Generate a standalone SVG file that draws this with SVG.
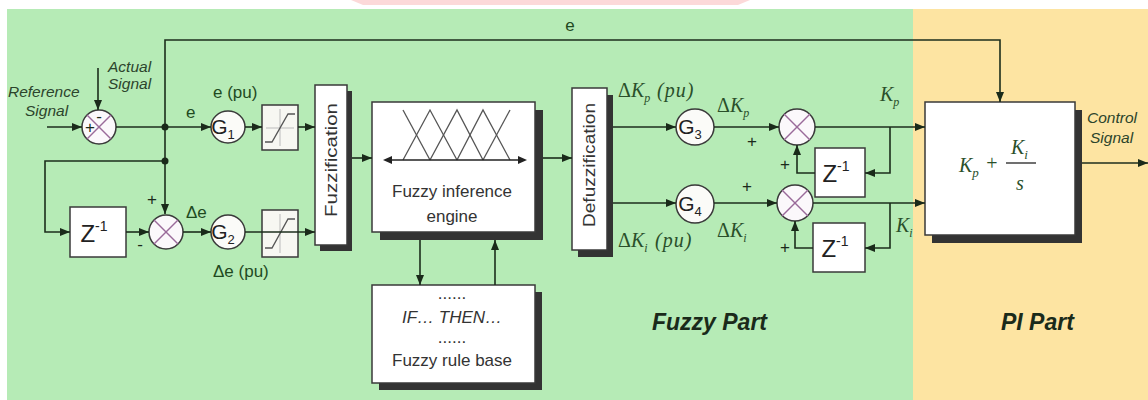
<svg xmlns="http://www.w3.org/2000/svg" width="1148" height="400" viewBox="0 0 1148 400">
<style>
.bg{stroke:none}
.box{fill:#ffffff;stroke:#3a3a3a;stroke-width:1.5}
.shadow{fill:#333333;stroke:none}
.sat{fill:#f7f7f2;stroke:#3a3a3a;stroke-width:1.5}
.gc{fill:#fbfbf8;stroke:#3a3a3a;stroke-width:1.5}
.sum{fill:#fbf8fb;stroke:#3a3a3a;stroke-width:1.5}
.x{stroke:#9a6a9a;stroke-width:1.4}
.w{fill:none;stroke:#1c2e1c;stroke-width:1.6}
.mf{fill:none;stroke:#555;stroke-width:1.3}
.lbl{font-family:"Liberation Sans",Arial,sans-serif;fill:#1f4a1f;font-size:17px}
.it{font-family:"Liberation Sans",Arial,sans-serif;font-style:italic;fill:#2c442c;font-size:15.5px}
.math{font-family:"Liberation Serif","Times New Roman",serif;fill:#2a4f2a;font-size:20px}
.g{font-family:"Liberation Sans",Arial,sans-serif;fill:#222;font-size:21px}
.z{font-family:"Liberation Sans",Arial,sans-serif;fill:#222;font-size:24px}
.in{font-family:"Liberation Sans",Arial,sans-serif;fill:#333;font-size:17px}
.part{font-family:"Liberation Sans",Arial,sans-serif;font-weight:bold;font-style:italic;fill:#1a2a1a;font-size:23px}
.pm{font-family:"Liberation Sans",Arial,sans-serif;fill:#1a2a1a;font-size:17px}
</style>
<defs>
<marker id="ah" viewBox="0 0 10 8" refX="10" refY="4" markerWidth="11" markerHeight="8" orient="auto" markerUnits="userSpaceOnUse">
<path d="M0,0 L10,4 L0,8 z" fill="#1a2a1a"/>
</marker>
</defs>

<!-- background -->
<rect x="0" y="0" width="1148" height="400" fill="#ffffff"/>
<path d="M351,0 H750 L738,5 H363 z" fill="#fcd9d9"/>
<rect class="bg" x="7" y="9" width="906" height="391" fill="#b6ebb6"/>
<rect class="bg" x="913" y="9" width="235" height="391" fill="#fde4a2"/>

<!-- summer 1 -->
<g id="sum1">
<circle class="sum" cx="99" cy="127" r="17" fill="#f4e9f2"/>
<line class="x" x1="87" y1="115" x2="111" y2="139"/>
<line class="x" x1="111" y1="115" x2="87" y2="139"/>
<text class="pm" x="99" y="122" text-anchor="middle" font-size="14">-</text>
<text class="pm" x="90" y="133" text-anchor="middle" font-size="14">+</text>
</g>

<!-- G1 -->
<g id="g1">
<ellipse class="gc" cx="228" cy="127" rx="17" ry="16"/>
<text class="g" x="223" y="134" text-anchor="middle">G<tspan font-size="13" dy="5">1</tspan></text>
</g>
<g id="sat1">
<rect class="sat" x="262" y="105" width="36" height="45"/>
<line x1="266" y1="128" x2="294" y2="128" stroke="#bbb" stroke-width="1"/>
<line x1="280" y1="109" x2="280" y2="146" stroke="#bbb" stroke-width="1"/>
<polyline class="mf" stroke="#333" points="265,142 272,142 288,114 295,114"/>
</g>

<!-- Z^-1 left -->
<g id="z0">
<rect class="box" x="70" y="207" width="56" height="50"/>
<text class="z" x="94" y="242" text-anchor="middle">Z<tspan font-size="14" dy="-11">-1</tspan></text>
</g>

<!-- summer 2 -->
<g id="sum2">
<circle class="sum" cx="166" cy="232" r="17"/>
<line class="x" x1="154" y1="220" x2="178" y2="244"/>
<line class="x" x1="178" y1="220" x2="154" y2="244"/>
</g>

<!-- G2 -->
<g id="g2">
<ellipse class="gc" cx="228" cy="232" rx="17" ry="17"/>
<text class="g" x="223" y="239" text-anchor="middle">G<tspan font-size="13" dy="5">2</tspan></text>
</g>
<g id="sat2">
<rect class="sat" x="262" y="210" width="36" height="47"/>
<line x1="280" y1="214" x2="280" y2="253" stroke="#bbb" stroke-width="1"/>
<polyline class="mf" stroke="#333" points="265,248 272,248 288,219 295,219"/>
</g>

<!-- Fuzzification -->
<g id="fuzzification">
<rect class="shadow" x="320" y="91" width="32" height="160"/>
<rect class="box" x="315" y="85" width="32" height="160"/>
<text class="in" font-size="16" transform="translate(337,160) rotate(-90)" text-anchor="middle" textLength="114" lengthAdjust="spacingAndGlyphs">Fuzzification</text>
</g>

<!-- Fuzzy inference engine -->
<g id="engine">
<rect class="shadow" x="380" y="110" width="163" height="130"/>
<rect class="box" x="372" y="102" width="163" height="130"/>
<polyline class="mf" points="403,110 430,160"/>
<polyline class="mf" points="403,160 430,110 457,160"/>
<polyline class="mf" points="430,160 457,110 483,160"/>
<polyline class="mf" points="457,160 483,110 510,160"/>
<polyline class="mf" points="483,160 510,110"/>
<line x1="386" y1="160" x2="524" y2="160" stroke="#222" stroke-width="1.5"/>
<path d="M383,160 L392,156 L392,164 z M527,160 L518,156 L518,164 z" fill="#222"/>
<text class="in" x="452" y="197" text-anchor="middle">Fuzzy inference</text>
<text class="in" x="452" y="222" text-anchor="middle">engine</text>
</g>

<!-- Rule base -->
<g id="rulebase">
<rect class="shadow" x="379" y="292" width="163" height="98"/>
<rect class="box" x="372" y="285" width="163" height="98"/>
<text class="in" x="452" y="299" text-anchor="middle" font-size="9" fill="#777">......</text>
<text class="in" x="452" y="323" text-anchor="middle" font-style="italic">IF… THEN…</text>
<text class="in" x="452" y="343" text-anchor="middle" font-size="9" fill="#777">......</text>
<text class="in" x="452" y="366" text-anchor="middle">Fuzzy rule base</text>
</g>

<!-- Defuzzification -->
<g id="defuzzification">
<rect class="shadow" x="578" y="95" width="35" height="162"/>
<rect class="box" x="572" y="88" width="35" height="162"/>
<text class="in" font-size="16" transform="translate(595,165) rotate(-90)" text-anchor="middle" textLength="124" lengthAdjust="spacingAndGlyphs">Defuzzification</text>
</g>

<!-- G3, G4 -->
<g id="g3">
<ellipse class="gc" cx="695" cy="127" rx="19" ry="18"/>
<text class="g" x="690" y="134" text-anchor="middle">G<tspan font-size="13" dy="5">3</tspan></text>
</g>
<g id="g4">
<ellipse class="gc" cx="695" cy="204" rx="19" ry="19"/>
<text class="g" x="690" y="211" text-anchor="middle">G<tspan font-size="13" dy="5">4</tspan></text>
</g>

<!-- summers 3,4 -->
<g id="sum3">
<circle class="sum" cx="797" cy="127" r="18"/>
<line class="x" x1="784" y1="114" x2="810" y2="140"/>
<line class="x" x1="810" y1="114" x2="784" y2="140"/>
</g>
<g id="sum4">
<circle class="sum" cx="795" cy="203" r="18"/>
<line class="x" x1="782" y1="190" x2="808" y2="216"/>
<line class="x" x1="808" y1="190" x2="782" y2="216"/>
</g>

<!-- Z^-1 right -->
<g id="z1">
<rect class="box" x="815" y="148" width="50" height="49"/>
<text class="z" x="836" y="182" text-anchor="middle">Z<tspan font-size="14" dy="-11">-1</tspan></text>
</g>
<g id="z2">
<rect class="box" x="813" y="223" width="52" height="49"/>
<text class="z" x="835" y="257" text-anchor="middle">Z<tspan font-size="14" dy="-11">-1</tspan></text>
</g>

<!-- PI block -->
<g id="pi">
<rect class="shadow" x="932" y="110" width="150" height="133"/>
<rect class="box" x="925" y="102" width="150" height="133"/>
<text class="math" x="959" y="172" font-size="24" fill="#222"><tspan font-style="italic">K</tspan><tspan font-size="13" dy="5" font-style="italic">p</tspan></text>
<text class="math" x="992" y="170" font-size="22" fill="#222" text-anchor="middle">+</text>
<text class="math" x="1011" y="154" font-size="24" fill="#222" font-style="italic">K<tspan font-size="13" dy="5">i</tspan></text>
<line x1="1006" y1="163" x2="1036" y2="163" stroke="#222" stroke-width="1.3"/>
<text class="math" x="1020" y="190" font-size="22" fill="#222" font-style="italic" text-anchor="middle">s</text>
</g>

<!-- connectors -->
<g id="connectors" class="w">
<path d="M47,127 H82" marker-end="url(#ah)"/>
<path d="M98,68 V110" marker-end="url(#ah)"/>
<path d="M116,127 H211" marker-end="url(#ah)"/>
<path d="M165,127 V40 H1000 V102" marker-end="url(#ah)"/>
<path d="M165,127 V214" marker-end="url(#ah)"/>
<path d="M165,161 H45 V232 H70" marker-end="url(#ah)"/>
<path d="M126,232 H149" marker-end="url(#ah)"/>
<path d="M183,232 H211" marker-end="url(#ah)"/>
<path d="M245,127 H262" marker-end="url(#ah)"/>
<path d="M298,127 H315" marker-end="url(#ah)"/>
<path d="M245,232 H315" marker-end="url(#ah)"/>
<path d="M352,158 H372" marker-end="url(#ah)"/>
<path d="M543,158 H572" marker-end="url(#ah)"/>
<path d="M420,240 V285" marker-end="url(#ah)"/>
<path d="M495,285 V240" marker-end="url(#ah)"/>
<path d="M613,127 H676" marker-end="url(#ah)"/>
<path d="M714,127 H779" marker-end="url(#ah)"/>
<path d="M815,127 H925" marker-end="url(#ah)"/>
<path d="M890,127 V173 H865" marker-end="url(#ah)"/>
<path d="M815,173 H797 V145" marker-end="url(#ah)"/>
<path d="M613,203 H676" marker-end="url(#ah)"/>
<path d="M714,203 H777" marker-end="url(#ah)"/>
<path d="M813,203 H925" marker-end="url(#ah)"/>
<path d="M890,203 V248 H865" marker-end="url(#ah)"/>
<path d="M813,248 H795 V221" marker-end="url(#ah)"/>
<path d="M1082,163 H1148" marker-end="url(#ah)"/>
<circle cx="165" cy="127" r="3.5" fill="#1a2a1a" stroke="none"/>
<circle cx="165" cy="161" r="3.5" fill="#1a2a1a" stroke="none"/>
</g>

<!-- labels -->
<g id="labels">
<text class="lbl" x="570" y="31" text-anchor="middle">e</text>
<text class="it" x="8" y="97">Reference</text>
<text class="it" x="25" y="116">Signal</text>
<text class="it" x="108" y="72">Actual</text>
<text class="it" x="108" y="89">Signal</text>
<text class="lbl" x="186" y="118">e</text>
<text class="lbl" x="213" y="98">e (pu)</text>
<text class="pm" x="152" y="205" text-anchor="middle">+</text>
<text class="pm" x="140" y="250" text-anchor="middle">-</text>
<text class="lbl" x="186" y="218">Δe</text>
<text class="lbl" x="213" y="277">Δe (pu)</text>
<text class="math" x="618" y="97">Δ<tspan font-style="italic">K</tspan><tspan font-style="italic" font-size="12" dy="5">p</tspan><tspan x="657" dy="-5" font-style="italic" letter-spacing="1">(pu)</tspan></text>
<text class="math" x="717" y="112">Δ<tspan font-style="italic">K</tspan><tspan font-style="italic" font-size="12" dy="5">p</tspan></text>
<text class="pm" x="752" y="147" text-anchor="middle">+</text>
<text class="math" x="880" y="101" font-style="italic">K<tspan font-size="12" dy="5">p</tspan></text>
<text class="pm" x="785" y="170" text-anchor="middle">+</text>
<text class="pm" x="747" y="192" text-anchor="middle">+</text>
<text class="math" x="618" y="247">Δ<tspan font-style="italic">K</tspan><tspan font-style="italic" font-size="12" dy="5">i</tspan><tspan x="655" dy="-5" font-style="italic" letter-spacing="1">(pu)</tspan></text>
<text class="math" x="717" y="237">Δ<tspan font-style="italic">K</tspan><tspan font-style="italic" font-size="12" dy="5">i</tspan></text>
<text class="math" x="896" y="232" font-style="italic">K<tspan font-size="12" dy="5">i</tspan></text>
<text class="pm" x="785" y="253" text-anchor="middle">+</text>
<text class="it" x="1087" y="123" font-size="16">Control</text>
<text class="it" x="1090" y="143" font-size="16">Signal</text>
<text class="part" x="652" y="330">Fuzzy Part</text>
<text class="part" x="1001" y="330">PI Part</text>
</g>
</svg>
